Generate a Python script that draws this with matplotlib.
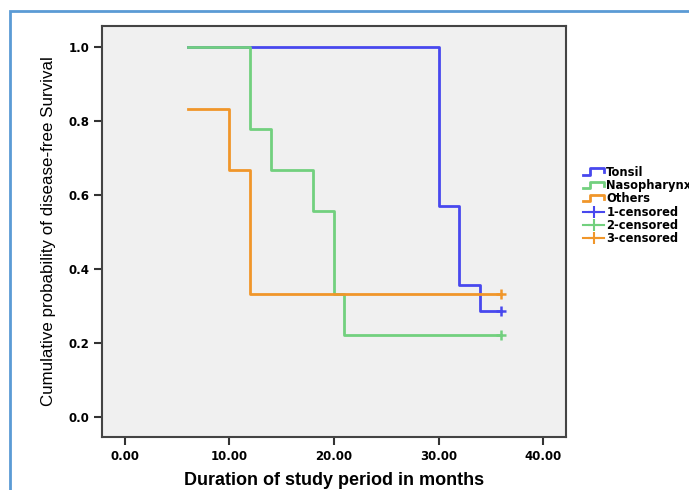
import matplotlib
matplotlib.use("Agg")
import matplotlib.pyplot as plt
from matplotlib.lines import Line2D
from matplotlib.legend_handler import HandlerBase
from matplotlib.patches import Rectangle

plt.rcParams['font.family'] = ['Liberation Sans', 'DejaVu Sans']

# ---------------- Data (Kaplan-Meier steps) ----------------
tonsil_t = [6, 30, 32, 34, 36]
tonsil_s = [1.0, 0.571, 0.357, 0.286, 0.286]

naso_t = [6, 12, 14, 18, 20, 21, 36]
naso_s = [1.0, 0.778, 0.667, 0.556, 0.333, 0.222, 0.222]

others_t = [6, 10, 12, 36]
others_s = [0.833, 0.667, 0.333, 0.333]

groups = ["Tonsil", "Nasopharynx", "Others"]
censor_labels = ["1-censored", "2-censored", "3-censored"]
censor_t = [36, 36, 36]
censor_s = [0.286, 0.222, 0.333]

x_ticks = [0, 10, 20, 30, 40]
y_ticks = [0.0, 0.2, 0.4, 0.6, 0.8, 1.0]

colors = ["#4848ee", "#72d07e", "#f0962a"]


# ---------------- Legend handler: step icon ----------------
class StepHandler(HandlerBase):
    def create_artists(self, legend, orig_handle, xd, yd, w, h, fontsize, trans):
        xs = [xd, xd + 0.35 * w, xd + 0.35 * w, xd + w, xd + w]
        ys = [yd + 0.15 * h, yd + 0.15 * h, yd + 0.95 * h, yd + 0.95 * h, yd + 0.45 * h]
        ln = Line2D(xs, ys, color=orig_handle.get_color(), lw=2, transform=trans)
        return [ln]


fig = plt.figure(figsize=(6.89, 4.90), dpi=100)
ax = fig.add_axes([0.148, 0.108, 0.6735, 0.839])
ax.set_facecolor("#f0f0f0")

series = [(tonsil_t, tonsil_s), (naso_t, naso_s), (others_t, others_s)]
step_handles = []
for (t, s), c, name in zip(series, colors, groups):
    h, = ax.step(t, s, where="post", color=c, lw=2, label=name)
    step_handles.append(h)

cens_handles = []
for ct, cs, c, name in zip(censor_t, censor_s, colors, censor_labels):
    ax.plot([ct], [cs], marker="+", ms=7, mew=1.8, color=c, ls="none")
    cens_handles.append(Line2D([], [], color=c, lw=1.5, marker="+", ms=9, mew=1.5))

tick_font = {"family": "DejaVu Sans", "weight": "bold", "size": 8.5}
ax.set_xlim(-2.2, 42.2)
ax.set_ylim(-0.054, 1.057)
ax.set_xticks(x_ticks)
ax.set_xticklabels([f"{v:.2f}" for v in x_ticks], fontdict=tick_font)
ax.set_yticks(y_ticks)
ax.set_yticklabels([f"{v:.1f}" for v in y_ticks], fontdict=tick_font)
ax.tick_params(direction="out", length=6, width=1.5, color="#333333", pad=3)

for sp in ax.spines.values():
    sp.set_color("#444444")
    sp.set_linewidth(1.5)

ax.set_xlabel("Duration of study period in months", fontsize=13, fontweight="bold", labelpad=7)
ax.set_ylabel("Cumulative probability of disease-free Survival", fontsize=12.2, labelpad=9)

handler_map = {h: StepHandler() for h in step_handles}
leg = fig.legend(step_handles + cens_handles, groups + censor_labels,
                 handler_map=handler_map, loc="upper left",
                 bbox_to_anchor=(0.838, 0.673), frameon=False,
                 prop={"family": "DejaVu Sans", "weight": "bold", "size": 8.3},
                 handlelength=1.8, handletextpad=0.2, labelspacing=0.02, borderpad=0)

# outer light-blue border
fig.patches.append(Rectangle((10 / 689, -0.1), 1.2, (490 - 11) / 490 + 0.1,
                             transform=fig.transFigure, fill=False,
                             edgecolor="#5b9bd5", lw=2, zorder=0))

fig.savefig("out.png", dpi=100)
